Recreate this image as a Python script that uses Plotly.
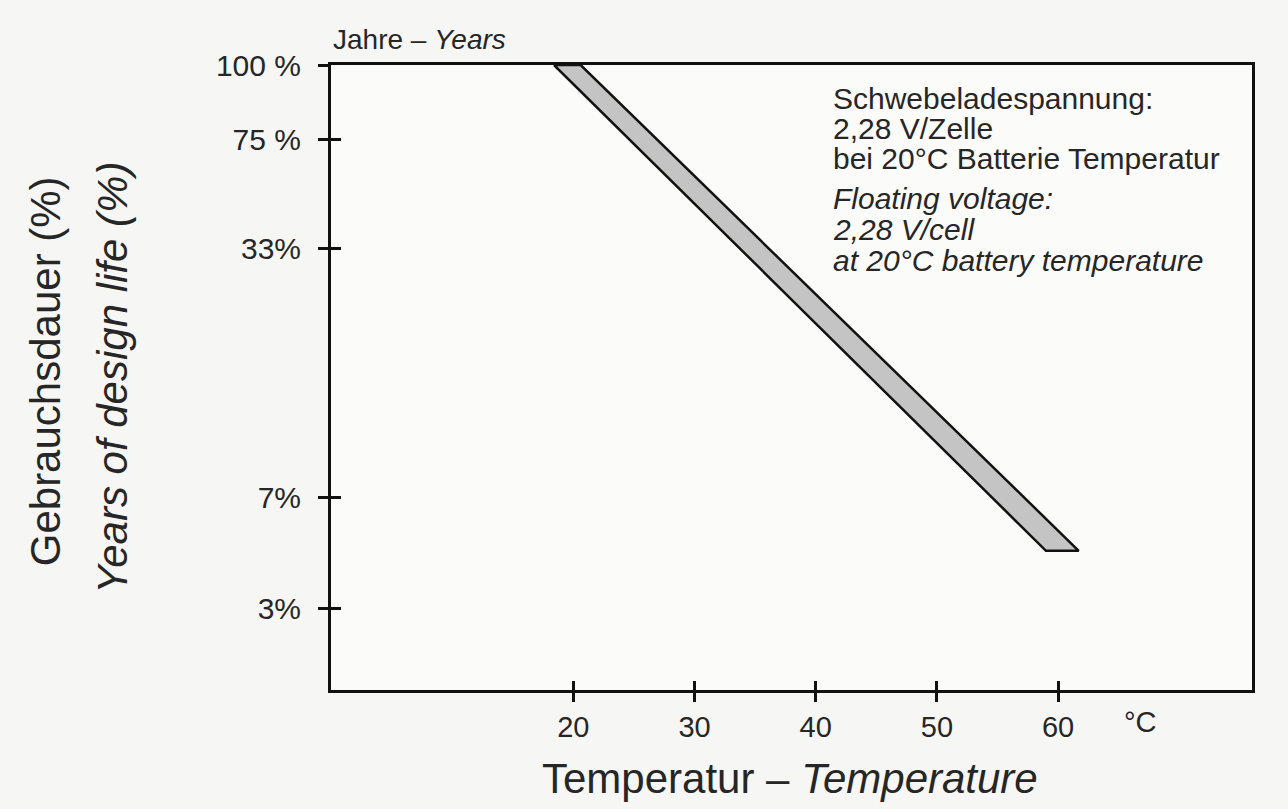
import plotly.graph_objects as go

# --- data ---
x_ticks = [20, 30, 40, 50, 60]
y_tick_pos = [624, 550, 441, 192, 81]          # vertical scale positions of the labelled levels
y_tick_text = ["100 %", "75 %", "33%", "7%", "3%"]
band_x = [18.4, 20.6, 61.7, 59.0, 18.4]        # temperature (°C)
band_y = [624, 624, 139, 139, 624]             # position on the life scale
note_de = ["Schwebeladespannung:", "2,28 V/Zelle", "bei 20°C Batterie Temperatur"]
note_en = ["Floating voltage:", "2,28 V/cell", "at 20°C battery temperature"]

FONT = "Liberation Sans, Arial, sans-serif"
TXT = "#262626"
INK = "#111111"

fig = go.Figure()
fig.add_trace(go.Scatter(
    x=band_x, y=band_y, mode="lines", fill="toself",
    fillcolor="#c4c4c4", line=dict(color=INK, width=2.5),
    hoverinfo="skip", showlegend=False,
))
# invisible trace on overlay axes so the inside half of each tick is drawn
fig.add_trace(go.Scatter(x=[0], y=[0], xaxis="x2", yaxis="y2", mode="markers",
                         marker=dict(opacity=0), showlegend=False, hoverinfo="skip"))

axis_common = dict(showgrid=False, zeroline=False, tickwidth=2.5, tickcolor=INK)
fig.update_layout(
    width=1288, height=809,
    margin=dict(l=331, r=36, t=65, b=119),
    paper_bgcolor="#f6f6f4", plot_bgcolor="#fbfbfa",
    font=dict(family=FONT, color=TXT),
    xaxis=dict(range=[0, 76], tickvals=x_ticks, ticks="outside", ticklen=9,
               showline=True, linecolor=INK, linewidth=3, mirror=True,
               tickfont=dict(size=29, color=TXT, family=FONT), ticklabelstandoff=0,
               **axis_common),
    yaxis=dict(range=[0, 624], tickvals=y_tick_pos, ticktext=y_tick_text, ticks="outside",
               ticklen=10, showline=True, linecolor=INK, linewidth=3, mirror=True,
               tickfont=dict(size=30, color=TXT, family=FONT), ticklabelstandoff=11,
               **axis_common),
    xaxis2=dict(overlaying="x", range=[0, 76], tickvals=x_ticks, ticks="inside", ticklen=9,
                showticklabels=False, showline=False, **axis_common),
    yaxis2=dict(overlaying="y", range=[0, 624], tickvals=y_tick_pos, ticks="inside", ticklen=10,
                showticklabels=False, showline=False, **axis_common),
)

ann = []
ann.append(dict(text="Jahre – <i>Years</i>", xref="paper", yref="paper", x=0, y=1,
                xanchor="left", yanchor="bottom", yshift=8, showarrow=False,
                font=dict(size=28, color=TXT, family=FONT)))
ann.append(dict(text="°C", xref="x", yref="paper", x=66.8, y=0, xanchor="center",
                yanchor="middle", yshift=-32, showarrow=False,
                font=dict(size=29, color=TXT, family=FONT)))
ann.append(dict(text="Temperatur – <i>Temperature</i>", xref="paper", yref="paper",
                x=0.498, y=0, xanchor="center", yanchor="middle", yshift=-88, showarrow=False,
                font=dict(size=42, color=TXT, family=FONT)))
ann.append(dict(text="Gebrauchsdauer (%)", xref="paper", yref="paper", x=0, y=0.51,
                xanchor="center", yanchor="middle", xshift=-286, textangle=-90,
                showarrow=False, font=dict(size=42, color=TXT, family=FONT)))
ann.append(dict(text="<i>Years of design life (%)</i>", xref="paper", yref="paper", x=0,
                y=0.50, xanchor="center", yanchor="middle", xshift=-219, textangle=-90,
                showarrow=False, font=dict(size=42, color=TXT, family=FONT)))

line_y = [591, 561, 531, 491, 460, 429]
for i, t in enumerate(note_de + note_en):
    txt = t if i < 3 else "<i>" + t + "</i>"
    ann.append(dict(text=txt, xref="x", yref="y", x=41.3, y=line_y[i], xanchor="left",
                    yanchor="middle", align="left", showarrow=False,
                    font=dict(size=30, color=TXT, family=FONT)))
fig.update_layout(annotations=ann)

fig.write_html("out.html", config={"displayModeBar": False},
               post_script="document.body.style.margin='0px';"
                           "document.body.style.background='#f6f6f4';")
